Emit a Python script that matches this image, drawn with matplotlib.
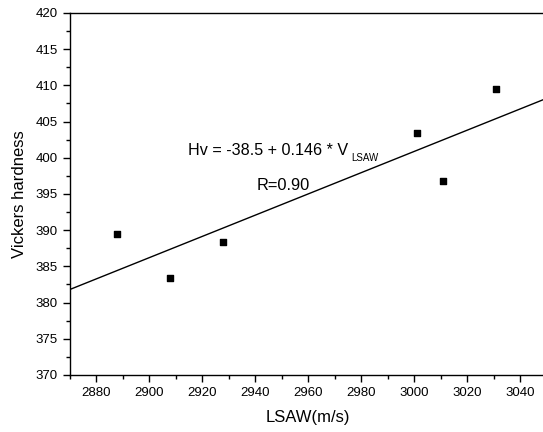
import numpy as np
import matplotlib
matplotlib.use("Agg")
import matplotlib.pyplot as plt
from matplotlib.ticker import MultipleLocator

plt.rcParams['font.family'] = ['Liberation Sans', 'DejaVu Sans']

lsaw = [2888, 2908, 2928, 3001, 3011, 3031]
hardness = [389.5, 383.4, 388.4, 403.4, 396.8, 409.5]

fig = plt.figure(figsize=(5.43, 4.32), dpi=100)
ax = fig.add_axes([0.128, 0.132, 0.8785, 0.838])

ax.scatter(lsaw, hardness, marker='s', s=20, color='black', zorder=3)
slope, intercept = np.polyfit(lsaw, hardness, 1)
xs = np.array([2870, 3050])
ax.plot(xs, intercept + slope * xs, color='black', lw=1.0)

ax.set_xlim(2870, 3050)
ax.set_ylim(370, 420)
ax.xaxis.set_major_locator(MultipleLocator(20))
ax.xaxis.set_minor_locator(MultipleLocator(10))
ax.yaxis.set_major_locator(MultipleLocator(5))
ax.yaxis.set_minor_locator(MultipleLocator(2.5))
ax.set_xticks(np.arange(2880, 3041, 20))
ax.tick_params(which='major', direction='out', length=5, width=1, labelsize=9.5)
ax.tick_params(which='minor', direction='out', length=3, width=1)
ax.spines['right'].set_visible(False)
for s in ax.spines.values():
    s.set_linewidth(1.0)

ax.set_xlabel('LSAW(m/s)', fontsize=12, labelpad=8)
ax.set_ylabel('Vickers hardness', fontsize=12, labelpad=6)

ax.text(2914.7, 401.0, 'Hv = -38.5 + 0.146 * V', fontsize=11.6,
        va='center', ha='left')
ax.text(2976.2, 399.9, 'LSAW', fontsize=7, va='center', ha='left')
ax.text(2940.6, 396.2, 'R=0.90', fontsize=11.8, va='center', ha='left')

fig.savefig('out.png', dpi=100)
